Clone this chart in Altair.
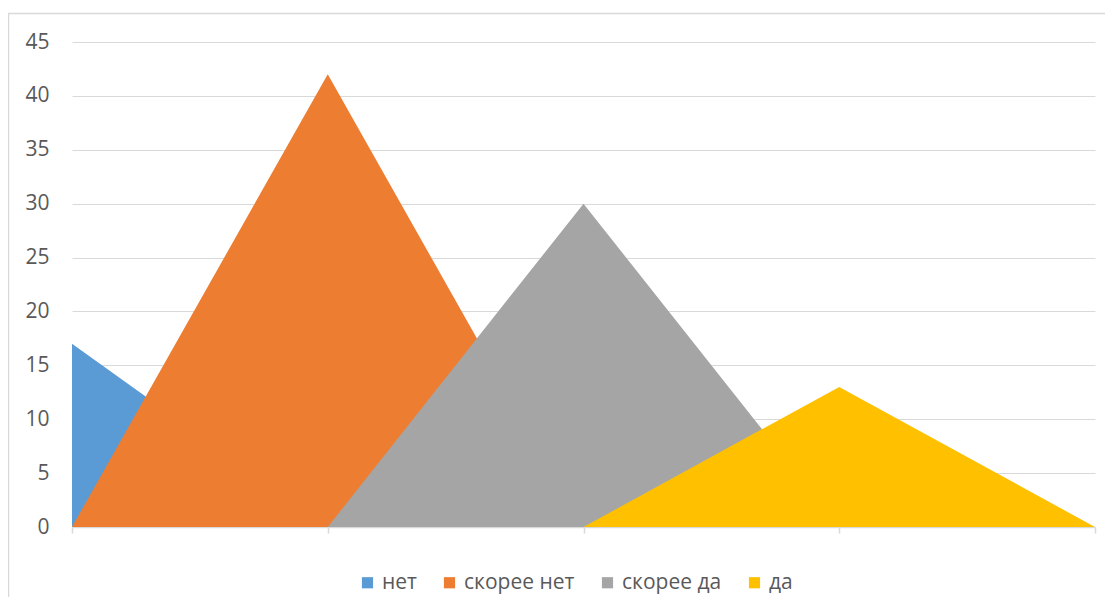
import altair as alt
import pandas as pd

positions = [0, 1, 2, 3, 4]
series_names = ["нет", "скорее нет", "скорее да", "да"]
net = [17, 0, 0, 0, 0]
skoree_net = [0, 42, 0, 0, 0]
skoree_da = [0, 0, 30, 0, 0]
da = [0, 0, 0, 13, 0]
colors = ["#5B9BD5", "#ED7D31", "#A5A5A5", "#FFC000"]
y_ticks = [0, 5, 10, 15, 20, 25, 30, 35, 40, 45]

all_values = [net, skoree_net, skoree_da, da]
FONT = "Open Sans"

color_scale = alt.Scale(domain=series_names, range=colors)
x_scale = alt.Scale(domain=[0, 4], nice=False, zero=False)
y_scale = alt.Scale(domain=[0, 45], nice=False)

x_axis = alt.Axis(values=positions, labels=False, title=None, grid=False,
                  domainColor="#d9d9d9", tickColor="#d9d9d9", tickSize=6,
                  domainWidth=1.5, tickWidth=1.5)
y_axis = alt.Axis(values=y_ticks, title=None, domain=False, ticks=False,
                  gridColor="#d9d9d9", gridWidth=1.2, labelPadding=23,
                  labelFontSize=21, labelColor="#595959", labelFont=FONT)
legend = alt.Legend(title=None, orient="none", direction="horizontal",
                    legendX=285, legendY=530, symbolType="square",
                    symbolSize=125, symbolStrokeWidth=0, symbolOpacity=1,
                    labelFontSize=21, labelFont=FONT, labelColor="#595959",
                    columnPadding=22, labelOffset=4)

layers = []
for name, vals in zip(series_names, all_values):
    df = pd.DataFrame({"pos": positions, "value": vals, "series": [name] * len(vals)})
    layers.append(
        alt.Chart(df).mark_area(opacity=1, interpolate="linear").encode(
            x=alt.X("pos:Q", scale=x_scale, axis=x_axis),
            y=alt.Y("value:Q", scale=y_scale, axis=y_axis),
            color=alt.Color("series:N", scale=color_scale, legend=legend),
        )
    )

frame_df = pd.DataFrame({"a": [0]})
left_border = alt.Chart(frame_df).mark_rule(color="#d9d9d9", strokeWidth=1.5).encode(
    x=alt.value(-63.5), y=alt.value(-29), y2=alt.value(600))
top_border = alt.Chart(frame_df).mark_rule(color="#d9d9d9", strokeWidth=1.5).encode(
    x=alt.value(-64), x2=alt.value(1100), y=alt.value(-28.5))

chart = alt.layer(*layers, left_border, top_border).properties(
    width=1023, height=485,
    padding={"left": 64, "top": 34, "right": 10, "bottom": 70},
    autosize=alt.AutoSizeParams(type="none"),
    background="white",
).configure_view(stroke=None)

chart.save("out.html", embed_options={"renderer": "svg", "actions": False})
